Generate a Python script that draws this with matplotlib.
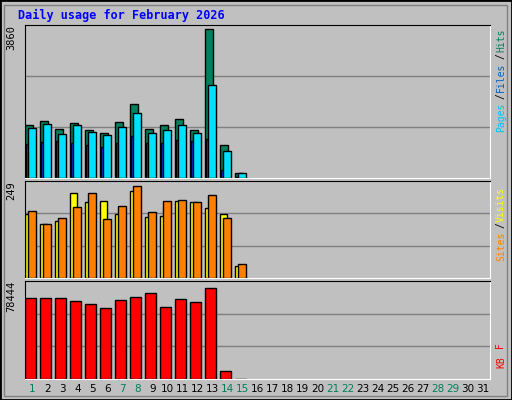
import matplotlib
matplotlib.use("Agg")
import matplotlib.pyplot as plt
from matplotlib.patches import Rectangle

days = list(range(1, 32))
hits  = [1377,1481,1272,1429,1246,1168,1455,1926,1272,1377,1534,1246,3860,854,123]
files = [1299,1403,1142,1377,1194,1116,1325,1691,1168,1246,1377,1168,2422,698,123]
pages = [881,933,959,907,854,802,907,1090,907,907,985,959,1011,201,20]
sites = [173,146,155,230,206,208,173,235,165,168,208,206,190,173,32]
visits= [182,146,163,192,230,160,195,249,179,208,211,206,225,163,39]
kbytes= [69855,69855,69855,67278,64702,61266,68137,70714,74149,62125,68996,66419,78444,7157,300]
weekend = [1,7,8,14,15,21,22,28,29]

BG = "#C0C0C0"
fig = plt.figure(figsize=(5.12, 4.0), dpi=100, facecolor=BG)
W, H = 512, 400
def rect(x0, y0, x1, y1):
    return [x0/W, 1-y1/H, (x1-x0)/W, (y1-y0)/H]

fig.patches.append(Rectangle((0,0),1,1,transform=fig.transFigure,fill=False,ec="black",lw=2))
fig.patches.append(Rectangle((4/W,4/H),(W-9)/W,(H-9)/H,transform=fig.transFigure,fill=False,ec="#808080",lw=1))
fig.text(18/W, 1-15/H, "Daily usage for February 2026", color="#0000FF",
         fontsize=8.5, fontweight="bold", family="DejaVu Sans Mono", va="center")

def rlabel(parts, y_start_px, upward_from_bottom):
    # parts listed bottom-to-top; place characters along a vertical line at x=501
    step = 6.6
    total = sum(len(t) for t, _ in parts) * step
    y = y_start_px if upward_from_bottom else y_start_px + total
    for txt, col in parts:
        fig.text(501/W, 1-y/H, txt, rotation=90, ha="center", va="bottom",
                 fontsize=7, family="DejaVu Sans Mono", color=col)
        y -= len(txt)*step

def panel(box, maxval, frac, series, maxlabel):
    ax = fig.add_axes(rect(*box))
    ax.set_facecolor(BG)
    top = maxval/frac
    ax.set_xlim(0.5, 31.5); ax.set_ylim(0, top)
    for k in (1, 2):
        ax.axhline(top*k/3, color="#808080", lw=1, zorder=0)
    for vals, off, wid, col in series:
        n = len(vals)
        ax.bar([d+off for d in days[:n]], vals, width=wid, align="edge",
               color=col, edgecolor="black", lw=1, zorder=2)
    ax.set_xticks([]); ax.set_yticks([])
    for s in ("right","bottom"):
        ax.spines[s].set_color("white")
    for s in ("left","top"):
        ax.spines[s].set_color("black")
    ax.text(-14/465, 1, maxlabel, transform=ax.transAxes, rotation=90,
            ha="center", va="top", fontsize=7.5, family="DejaVu Sans Mono")
    return ax

panel((25,25,490,178), 3860, 147.7/152,
      [(hits,-0.5,0.5,"#00805C"),(pages,-0.42,0.22,"#0040FF"),(files,-0.27,0.52,"#00E0FF")],
      "3860")
panel((25,181,490,278), 249, 92.3/97,
      [(sites,-0.5,0.48,"#FFFF00"),(visits,-0.27,0.5,"#FF8000")],
      "249")
panel((25,281,490,379), 78444, 91.3/98,
      [(kbytes,-0.47,0.7,"#FF0000")],
      "78444")

rlabel([("Pages","#00C0FF"),("/","black"),("Files","#0060C0"),("/","black"),("Hits","#00805C")], 26, False)
rlabel([("Sites","#FF8000"),("/","black"),("Visits","#FFFF00")], 182, False)
rlabel([("KB","#FF0000"),(" F","#FF0000")], 368, True)

for d in days:
    fig.text((25+(d-0.5)*15)/W, 1-389/H, str(d), ha="center", va="center",
             fontsize=7.5, color="#00805C" if d in weekend else "black",
             family="DejaVu Sans")

fig.savefig("out.png", dpi=100, facecolor=BG)
